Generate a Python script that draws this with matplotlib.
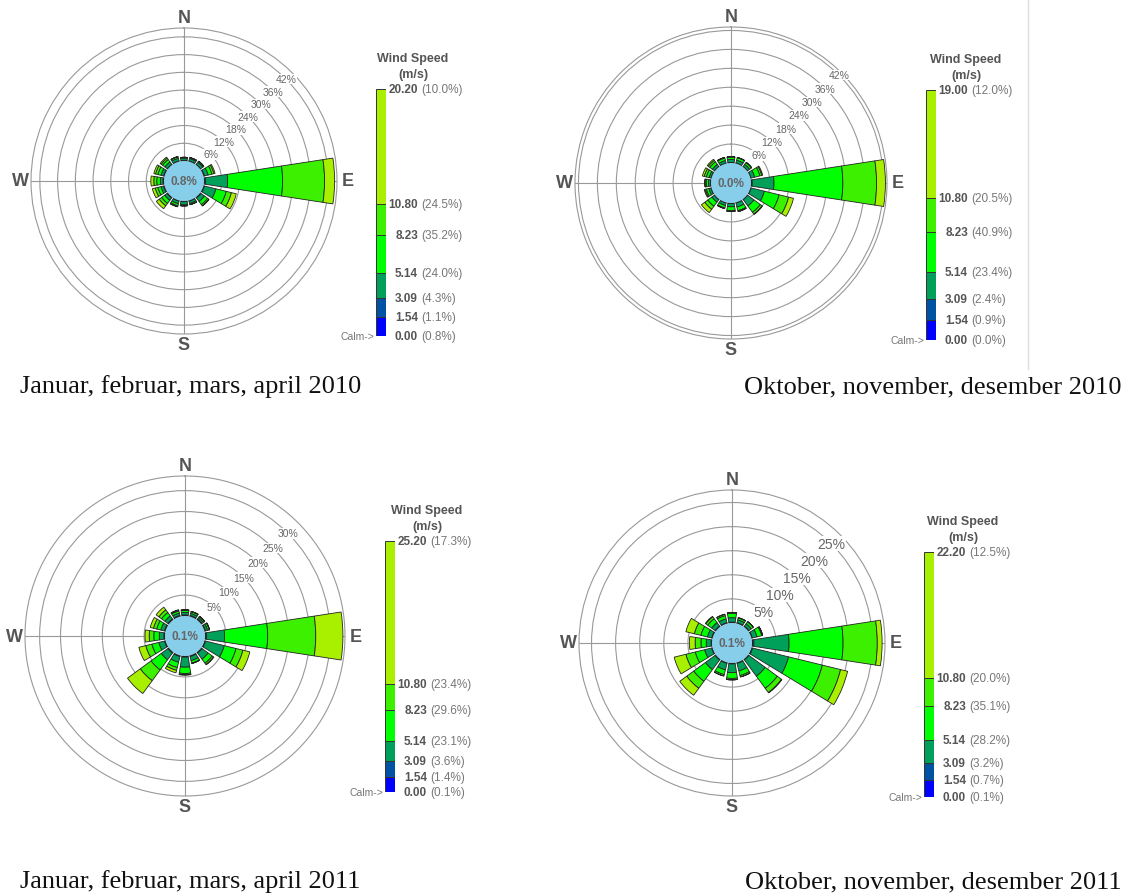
import numpy as np
import matplotlib.pyplot as plt
from matplotlib.lines import Line2D

plt.rcParams['font.family'] = ['Liberation Sans', 'DejaVu Sans']

W, H = 1125, 895

directions = ['N', 'NNE', 'NE', 'ENE', 'E', 'ESE', 'SE', 'SSE',
              'S', 'SSW', 'SW', 'WSW', 'W', 'WNW', 'NW', 'NNW']
bin_colors = ['#0000FF', '#0052A2', '#00A05A', '#00FF00', '#3CF000', '#A8F000']
speed_edges_common = [0.00, 1.54, 3.09, 5.14, 8.23, 10.80]

# --- Jan-Apr 2010 ---
top_speed_1 = 20.20
legend_pct_1 = [0.8, 1.1, 4.3, 24.0, 35.2, 24.5, 10.0]
calm_1 = '0.8%'
rose_1 = [
    [0.05, 0.05, 0.05, 0.05, 0.1, 0.05, 0.05, 0.05, 0.05, 0.05, 0.05, 0.05, 0.05, 0.05, 0.05, 0.05],
    [0.2, 0.2, 0.2, 0.3, 0.4, 0.3, 0.3, 0.2, 0.2, 0.2, 0.3, 0.3, 0.3, 0.3, 0.2, 0.2],
    [0.7, 0.8, 0.9, 1.3, 7.5, 4.0, 1.5, 0.8, 1.0, 0.9, 1.0, 0.9, 0.9, 0.9, 1.0, 0.9],
    [0.3, 0.35, 0.4, 1.3, 18.6, 3.6, 1.3, 0.4, 0.4, 0.7, 1.3, 1.1, 1.2, 1.1, 1.0, 0.5],
    [0.0, 0.0, 0.0, 0.7, 14.2, 1.8, 0.5, 0.05, 0.0, 0.3, 1.0, 0.9, 1.0, 0.8, 0.6, 0.1],
    [0.0, 0.0, 0.0, 0.4, 3.4, 1.7, 0.1, 0.0, 0.0, 0.1, 1.2, 1.0, 1.0, 0.6, 0.4, 0.0],
]

# --- Oct-Dec 2010 ---
top_speed_2 = 19.00
legend_pct_2 = [0.0, 0.9, 2.4, 23.4, 40.9, 20.5, 12.0]
calm_2 = '0.0%'
rose_2 = [
    [0.05, 0.05, 0.05, 0.05, 0.1, 0.05, 0.05, 0.05, 0.05, 0.05, 0.05, 0.05, 0.05, 0.05, 0.05, 0.05],
    [0.15, 0.15, 0.15, 0.15, 0.3, 0.2, 0.15, 0.15, 0.15, 0.15, 0.15, 0.15, 0.15, 0.15, 0.15, 0.15],
    [0.9, 0.9, 0.8, 1.2, 6.9, 4.3, 2.5, 1.3, 1.0, 0.8, 1.0, 0.7, 0.6, 0.6, 0.8, 0.8],
    [0.8, 0.8, 0.7, 1.7, 21.8, 4.8, 2.5, 1.2, 1.2, 0.8, 1.6, 0.8, 0.7, 0.9, 1.0, 0.8],
    [0.1, 0.1, 0.1, 0.6, 10.7, 3.1, 0.7, 0.3, 0.3, 0.2, 1.2, 0.4, 0.4, 0.7, 0.6, 0.2],
    [0.0, 0.0, 0.0, 0.3, 2.8, 1.6, 0.1, 0.0, 0.0, 0.0, 1.3, 0.3, 0.1, 0.6, 0.4, 0.0],
]

# --- Jan-Apr 2011 ---
top_speed_3 = 25.20
legend_pct_3 = [0.1, 1.4, 3.6, 23.1, 29.6, 23.4, 17.3]
calm_3 = '0.1%'
rose_3 = [
    [0.08, 0.08, 0.08, 0.08, 0.1, 0.08, 0.08, 0.08, 0.08, 0.08, 0.08, 0.08, 0.08, 0.08, 0.08, 0.08],
    [0.2, 0.2, 0.2, 0.2, 0.3, 0.2, 0.2, 0.2, 0.2, 0.2, 0.2, 0.2, 0.2, 0.2, 0.2, 0.2],
    [0.6, 0.5, 0.4, 0.5, 4.3, 4.6, 1.8, 1.0, 2.4, 1.4, 2.0, 1.4, 1.1, 0.9, 0.9, 0.6],
    [0.5, 0.4, 0.3, 0.4, 10.3, 2.9, 1.2, 0.6, 1.5, 1.3, 3.0, 1.7, 1.3, 1.0, 1.0, 0.5],
    [0.1, 0.1, 0.1, 0.1, 11.5, 1.7, 0.4, 0.1, 0.3, 0.7, 3.2, 1.5, 1.1, 0.8, 0.8, 0.2],
    [0.0, 0.0, 0.0, 0.0, 6.5, 1.7, 0.1, 0.0, 0.1, 0.6, 3.8, 1.7, 1.0, 0.8, 0.8, 0.1],
]

# --- Oct-Dec 2011 ---
top_speed_4 = 22.20
legend_pct_4 = [0.1, 0.7, 3.2, 28.2, 35.1, 20.0, 12.5]
calm_4 = '0.1%'
rose_4 = [
    [0.05, 0.05, 0.05, 0.05, 0.1, 0.05, 0.05, 0.05, 0.05, 0.05, 0.05, 0.05, 0.05, 0.05, 0.05, 0.05],
    [0.15, 0.15, 0.15, 0.15, 0.3, 0.2, 0.15, 0.15, 0.15, 0.15, 0.15, 0.15, 0.15, 0.15, 0.15, 0.15],
    [0.9, 0.6, 0.6, 1.0, 7.3, 7.7, 4.2, 1.6, 1.8, 1.4, 2.5, 1.5, 1.0, 0.9, 0.9, 0.8],
    [0.9, 0.4, 0.5, 1.0, 11.2, 7.2, 3.1, 1.0, 1.2, 1.0, 3.0, 2.0, 1.1, 1.4, 1.0, 0.7],
    [0.2, 0.05, 0.05, 0.2, 7.1, 3.9, 1.1, 0.3, 0.3, 0.3, 1.8, 2.0, 1.2, 1.4, 0.5, 0.3],
    [0.0, 0.0, 0.0, 0.0, 1.0, 1.5, 0.1, 0.0, 0.0, 0.0, 1.8, 2.5, 1.2, 1.8, 0.1, 0.0],
]

captions = ['Januar, februar, mars, april 2010', 'Oktober, november, desember 2010',
            'Januar, februar, mars, april 2011', 'Oktober, november, desember 2011']

fig = plt.figure(figsize=(W / 100, H / 100), dpi=100)
theta = np.deg2rad(np.arange(16) * 22.5)


def draw_rose(cx, cy, R, outer, ticks, rose, calm_txt, lbl_size):
    r0_px = 20
    ax = fig.add_axes([(cx - R) / W, (H - cy - R) / H, 2 * R / W, 2 * R / H],
                      projection='polar')
    scale = (R - r0_px) / outer
    r0 = r0_px / scale
    ax.set_theta_zero_location('N')
    ax.set_theta_direction(-1)
    ax.set_axisbelow(True)
    bottom = np.full(16, r0)
    for vals, c in zip(rose, bin_colors):
        vals = np.array(vals)
        ax.bar(theta, vals, width=np.deg2rad(17.5), bottom=bottom, color=c,
               edgecolor='#222222', linewidth=0.6, zorder=2)
        bottom = bottom + vals
    ax.bar(0, r0, width=2 * np.pi, bottom=0, color='#87CEEB', linewidth=0, zorder=3)
    ax.text(0, 0, calm_txt, ha='center', va='center', fontsize=8.5,
            fontweight='bold', color='#666666', zorder=4)
    ax.set_ylim(0, r0 + outer)
    ax.set_rgrids(r0 + np.array(ticks), labels=[''] * len(ticks))
    for t in ticks:
        ax.text(np.deg2rad(45), r0 + t, f'{t}%', ha='center', va='center',
                fontsize=lbl_size, color='#666666', zorder=5,
                bbox=dict(facecolor='white', edgecolor='none', pad=0.2))
    ax.set_thetagrids([0, 90, 180, 270], labels=['N', 'E', 'S', 'W'],
                      fontsize=13, fontweight='bold', color='#555555')
    ax.tick_params(axis='x', pad=-3)
    ax.grid(color='#999999', linewidth=0.8)
    ax.spines['polar'].set_color('#999999')
    ax.spines['polar'].set_linewidth(0.8)
    return ax


def draw_legend(x0, ytop, ybot, top_speed, pcts, title_dx):
    edges = speed_edges_common + [top_speed]
    lax = fig.add_axes([x0 / W, (H - ybot) / H, 10 / W, (ybot - ytop) / H])
    lax.bar(0.5, np.diff(edges), bottom=edges[:-1], width=1, color=bin_colors,
            edgecolor='#333333', linewidth=0.7)
    lax.set_xlim(0, 1)
    lax.set_ylim(0, top_speed)
    lax.axis('off')
    for v, p in zip(edges, pcts):
        lax.annotate(f'{v:.2f}', xy=(1, v), xycoords=('axes fraction', 'data'),
                     xytext=(32 * 0.72, 0), textcoords='offset points', ha='right',
                     va='center', fontsize=8.5, fontweight='bold', color='#555555')
        lax.annotate(f'({p:.1f}%)', xy=(1, v), xycoords=('axes fraction', 'data'),
                     xytext=(35 * 0.72, 0), textcoords='offset points', ha='left',
                     va='center', fontsize=8.5, color='#777777')
    lax.annotate('Calm->', xy=(0, 0), xycoords='axes fraction', xytext=(-1, 0),
                 textcoords='offset points', ha='right', va='center', fontsize=7.5,
                 color='#777777')
    lax.annotate('Wind Speed\n(m/s)', xy=(0.5, 1), xycoords='axes fraction',
                 xytext=(title_dx * 0.72, 9 * 0.72), textcoords='offset points',
                 ha='center', va='bottom', fontsize=9, fontweight='bold',
                 color='#555555', linespacing=1.45)


draw_rose(184, 182, 153, 45.0, [6, 12, 18, 24, 30, 36, 42], rose_1, calm_1, 7.5)
draw_legend(376, 90, 337, top_speed_1, legend_pct_1, 32)

draw_rose(731, 184, 156, 43.1, [6, 12, 18, 24, 30, 36, 42], rose_2, calm_2, 7.5)
draw_legend(926, 91, 341, top_speed_2, legend_pct_2, 35)

draw_rose(185, 637, 160, 33.5, [5, 10, 15, 20, 25, 30], rose_3, calm_3, 7.5)
draw_legend(385, 542, 793, top_speed_3, legend_pct_3, 37)

draw_rose(732, 644, 153, 27.6, [5, 10, 15, 20, 25], rose_4, calm_4, 10)
draw_legend(924, 553, 798, top_speed_4, legend_pct_4, 34)

cap_y = [387, 387, 882, 882]
for i, txt in enumerate(captions):
    if i % 2 == 0:
        fig.text(20 / W, 1 - cap_y[i] / H, txt, ha='left', va='center',
                 family='Liberation Serif', fontsize=19, color='#111111')
    else:
        fig.text(1122 / W, 1 - cap_y[i] / H, txt, ha='right', va='center',
                 family='Liberation Serif', fontsize=19, color='#111111')

fig.add_artist(Line2D([1028 / W, 1028 / W], [1 - 370 / H, 1], color='#dddddd',
                      linewidth=1, transform=fig.transFigure))

fig.savefig('out.png', dpi=100)
